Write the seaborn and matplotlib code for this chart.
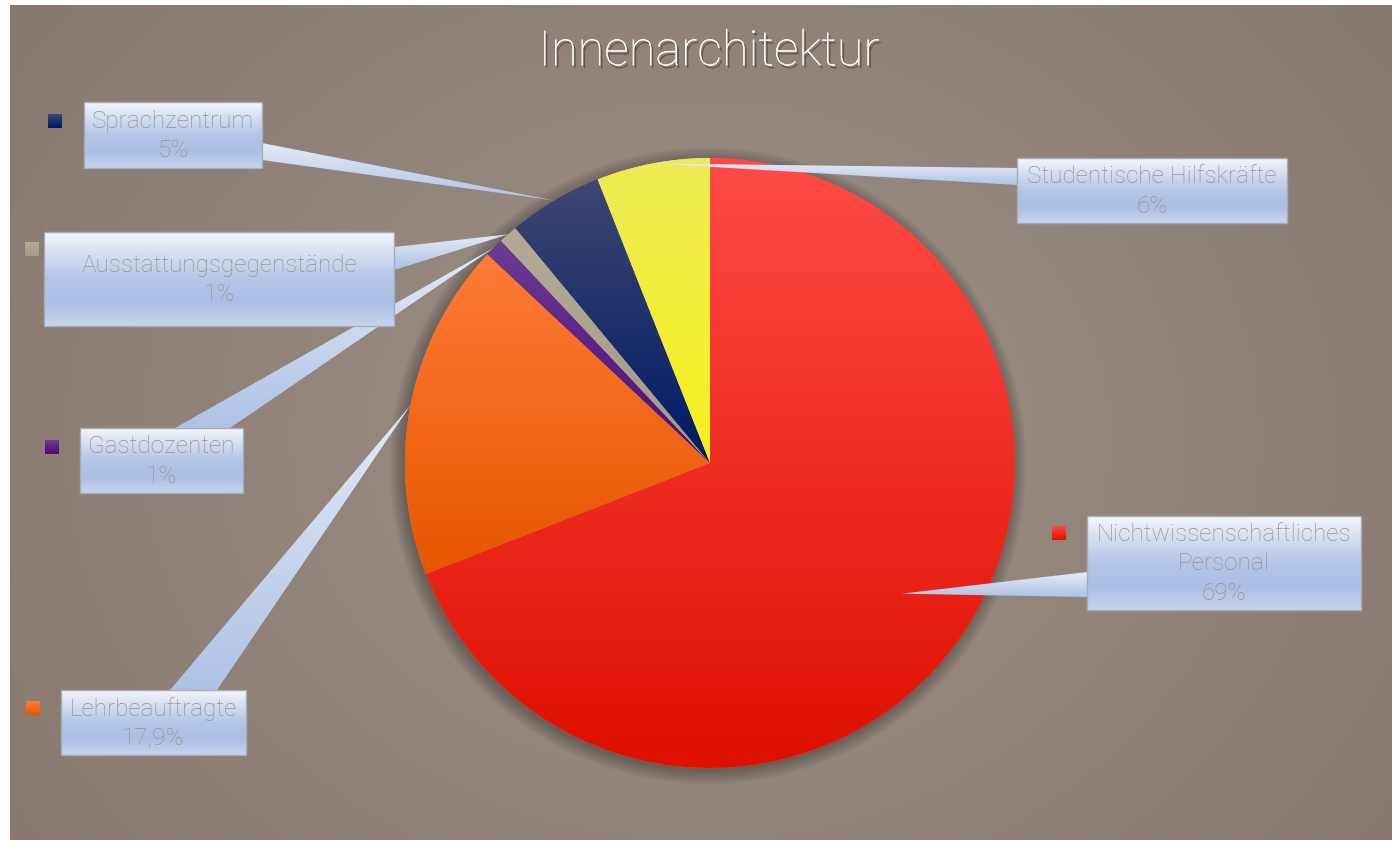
import numpy as np
import matplotlib.pyplot as plt
import matplotlib.patheffects as pe
from matplotlib.colors import to_rgb
from matplotlib.patches import Polygon, Rectangle, Circle
import seaborn as sns

sns.set_theme(style="white")
plt.rcParams['font.family'] = ['Roboto', 'DejaVu Sans']

# data
categories = ["Nichtwissenschaftliches\nPersonal", "Lehrbeauftragte", "Gastdozenten",
              "Ausstattungsgegenstände", "Sprachzentrum", "Studentische Hilfskräfte"]
shares = [69, 17.9, 1, 1, 5, 6]
pct_labels = ["69%", "17,9%", "1%", "1%", "5%", "6%"]
top_colors = ["#ff4b47", "#ff7b37", "#6c3d92", "#b3ab95", "#3d4772", "#eeeb55"]
bottom_colors = ["#de1000", "#e65600", "#4c0a78", "#a29a84", "#001966", "#f5f11c"]

# layout in pixels (y measured from the top)
W, H = 1394, 841
box_px = [(1087, 516, 1361, 610), (61, 690, 246, 755), (80, 428, 243, 493),
          (44, 232, 394, 326), (84, 102, 262, 168), (1017, 158, 1287, 223)]
marker_px = [(1059, 533), (33, 708), (52, 447), (32, 249), (55, 121), None]
leader_base_px = [((1087, 572), (1087, 597)), ((170, 690), (217, 690)), ((175, 428), (230, 428)),
                  ((394, 247), (394, 270)), ((262, 143), (262, 160)), ((1017, 168), (1017, 185))]
tip_radius = [0.76, 1.0, 1.0, 1.0, 1.0, 1.0]
center = (710, H - 463)
R = 305


def up(p):
    return (p[0], H - p[1])


def gradient(colors, n=256):
    return np.array(sns.blend_palette(colors, n))[:, None, :]


def fill_gradient(ax, patch, colors, z):
    bb = patch.get_path().get_extents(patch.get_patch_transform())
    im = ax.imshow(gradient(colors), extent=(bb.x0, bb.x1, bb.y0, bb.y1),
                   aspect='auto', origin='upper', zorder=z, interpolation='bilinear')
    im.set_clip_path(patch)


fig = plt.figure(figsize=(W / 100, H / 100), dpi=100, facecolor='white')
ax = fig.add_axes([0, 0, 1, 1])

# radial background
yy, xx = np.mgrid[0:1:300j, 0:1:500j]
d = np.clip(np.sqrt(((xx - 0.5) / 0.62) ** 2 + ((yy - 0.52) / 0.85) ** 2), 0, 1)
c0, c1 = np.array(to_rgb('#9d9086')), np.array(to_rgb('#877970'))
bg = c0 + (c1 - c0) * d[..., None]
ax.imshow(bg, extent=(10, 1392, H - 840, H - 5), aspect='auto', zorder=0)

# soft shadow
for k in range(12):
    ax.add_patch(Circle((center[0] - 2, center[1] - 3), R + k * 1.2,
                        color='black', alpha=0.025, lw=0, zorder=1))

wedges, _ = ax.pie(shares, startangle=90, counterclock=False, center=center, radius=R,
                   colors=top_colors, wedgeprops=dict(linewidth=0), frame=True)
for w, t, b in zip(wedges, top_colors, bottom_colors):
    w.set_zorder(2)
    fill_gradient(ax, w, [t, b], 3)

box_grad = ['#f4f6fb', '#d2ddf1', '#b3c6e7', '#aabfe4', '#c6d4ed']
for i, w in enumerate(wedges):
    theta = np.deg2rad((w.theta1 + w.theta2) / 2)
    tip = (center[0] + tip_radius[i] * R * np.cos(theta), center[1] + tip_radius[i] * R * np.sin(theta))
    b0, b1 = up(leader_base_px[i][0]), up(leader_base_px[i][1])
    leader = Polygon([b0, b1, tip], closed=True, facecolor='none', lw=0, zorder=5)
    ax.add_patch(leader)
    fill_gradient(ax, leader, ['#e4ebf7', '#aec2e5'], 5)

    x0, y0, x1, y1 = box_px[i]
    rect = Rectangle((x0, H - y1), x1 - x0, y1 - y0, facecolor='none',
                     edgecolor='#a9abb5', lw=1, zorder=7)
    ax.add_patch(rect)
    fill_gradient(ax, rect, box_grad, 6)
    ax.text((x0 + x1) / 2, H - (y0 + y1) / 2 - 1, f"{categories[i]}\n{pct_labels[i]}",
            ha='center', va='center', fontsize=17.5, color='#9d928d', fontweight='light',
            linespacing=1.35, zorder=8)

    if marker_px[i] is not None:
        mx, my = up(marker_px[i])
        sq = Rectangle((mx - 7, my - 7), 14, 14, facecolor='none', lw=0, zorder=6)
        ax.add_patch(sq)
        fill_gradient(ax, sq, [top_colors[i], bottom_colors[i]], 6)

ax.text(709, H - 52, "Innenarchitektur", fontsize=35, color='#f7f7f7', fontweight='light',
        ha='center', va='center', zorder=9,
        path_effects=[pe.withSimplePatchShadow(offset=(1.5, -2), shadow_rgbFace='black', alpha=0.35),
                      pe.Normal()])

ax.set_aspect('auto')
ax.set_xlim(0, W)
ax.set_ylim(0, H)
ax.axis('off')
fig.savefig('out.png', dpi=100, facecolor='white')
